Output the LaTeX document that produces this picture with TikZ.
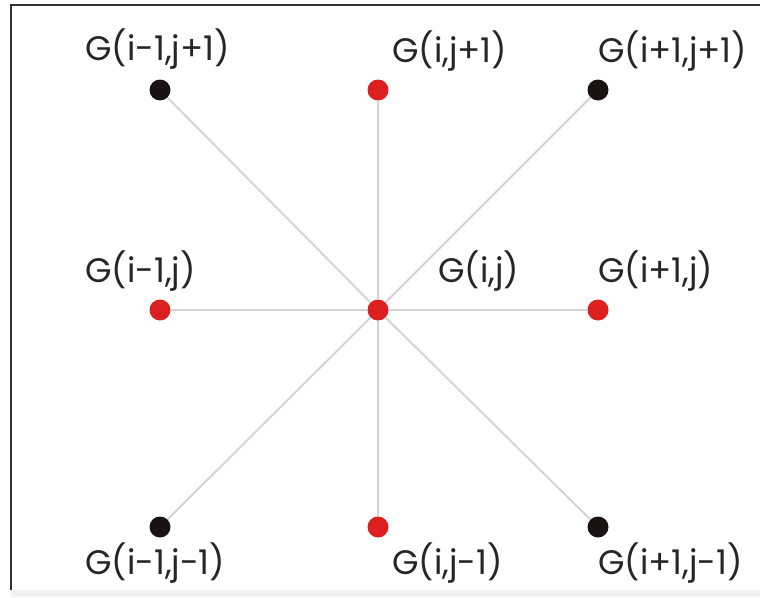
\documentclass[tikz,border=0pt]{standalone}
\usepackage{fontspec}
\setmainfont{Poppins}
\usetikzlibrary{backgrounds}
\definecolor{dotred}{HTML}{DC2020}
\definecolor{dotblack}{HTML}{1A1212}
\definecolor{linkgray}{HTML}{D2D2D2}
\definecolor{framegray}{HTML}{333333}
\tikzset{
  reddot/.style={circle,fill=dotred,inner sep=0pt,minimum size=21pt},
  blackdot/.style={circle,fill=dotblack,inner sep=0pt,minimum size=21pt},
  link/.style={draw=linkgray,line width=1.8pt},
  lbl/.style={anchor=base west,inner sep=0pt,font=\fontsize{34}{34}\selectfont,text=black!85}
}
\begin{document}
\begin{tikzpicture}[x=1pt,y=-1pt]
\useasboundingbox (0,0) rectangle (760,597);
% nodes
\node[blackdot] (nw) at (160,90) {};
\node[reddot]   (n)  at (378,90) {};
\node[blackdot] (ne) at (598,90) {};
\node[reddot]   (w)  at (160,310) {};
\node[reddot]   (c)  at (378,310) {};
\node[reddot]   (e)  at (598,310) {};
\node[blackdot] (sw) at (160,527) {};
\node[reddot]   (s)  at (378,527) {};
\node[blackdot] (se) at (598,527) {};
% labels
\node[lbl] (lnw) at (85,60) {G(i-1,j+1)};
\node[lbl] (ln)  at (392,62) {G(i,j+1)};
\node[lbl] (lne) at (598,62) {G(i+1,j+1)};
\node[lbl] (lw)  at (85,282) {G(i-1,j)};
\node[lbl] (lc)  at (438,282) {G(i,j)};
\node[lbl] (le)  at (598,282) {G(i+1,j)};
\node[lbl] (lsw) at (85,574) {G(i-1,j-1)};
\node[lbl] (ls)  at (392,574) {G(i,j-1)};
\node[lbl] (lse) at (598,574) {G(i+1,j-1)};
\begin{scope}[on background layer]
\fill[white] (0,0) rectangle (760,597);
\fill[black!5] (11,590) rectangle (760,597);
\draw[framegray,line width=2pt] (11,590) -- (11,5) -- (760,5);
\foreach \t in {nw,n,ne,w,e,sw,s,se}{\draw[link] (c) -- (\t);}
\end{scope}
\end{tikzpicture}
\end{document}
